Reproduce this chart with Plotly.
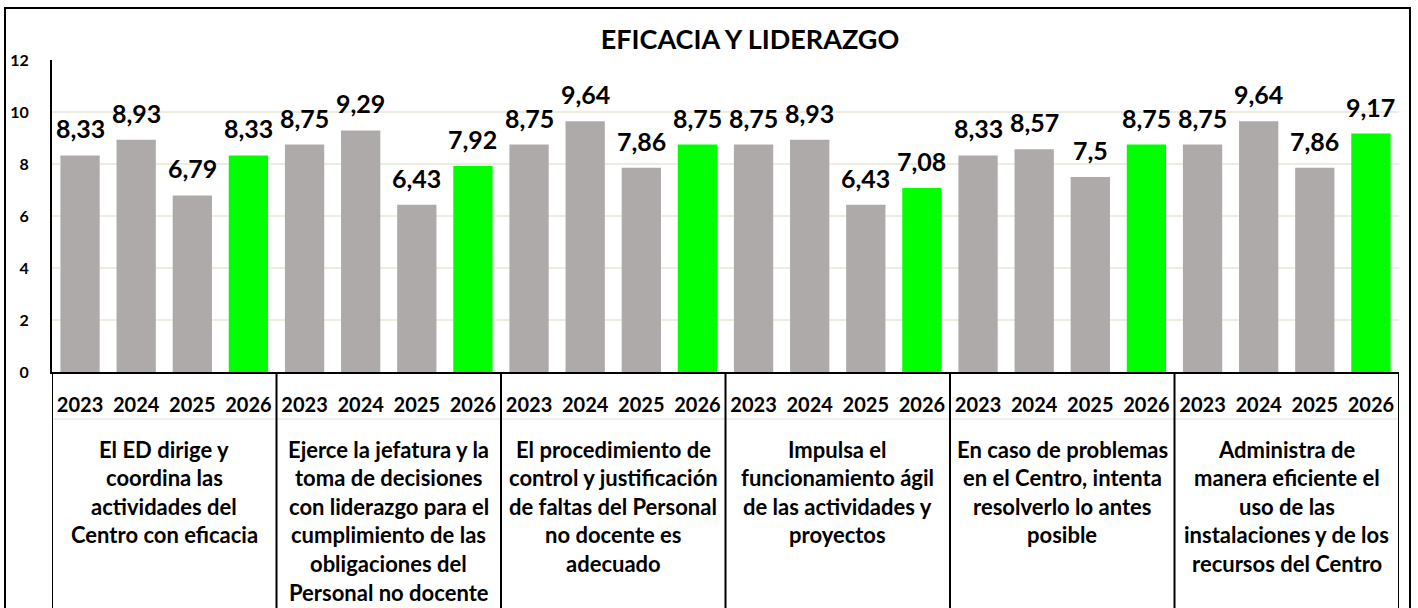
import plotly.graph_objects as go

# ---------------- data ----------------
years = ["2023", "2024", "2025", "2026"]
group_labels = [
    ["El ED dirige y", "coordina las", "actividades del", "Centro con eficacia"],
    ["Ejerce la jefatura y la", "toma de decisiones", "con liderazgo para el",
     "cumplimiento de las", "obligaciones del", "Personal no docente"],
    ["El procedimiento de", "control y justificación", "de faltas del Personal",
     "no docente es", "adecuado"],
    ["Impulsa el", "funcionamiento ágil", "de las actividades y", "proyectos"],
    ["En caso de problemas", "en el Centro, intenta", "resolverlo lo antes", "posible"],
    ["Administra de", "manera eficiente el", "uso de las",
     "instalaciones y de los", "recursos del Centro"],
]
values_g1 = [8.33, 8.93, 6.79, 8.33]
values_g2 = [8.75, 9.29, 6.43, 7.92]
values_g3 = [8.75, 9.64, 7.86, 8.75]
values_g4 = [8.75, 8.93, 6.43, 7.08]
values_g5 = [8.33, 8.57, 7.5, 8.75]
values_g6 = [8.75, 9.64, 7.86, 9.17]
all_groups = [values_g1, values_g2, values_g3, values_g4, values_g5, values_g6]
title_text = "EFICACIA Y LIDERAZGO"
y_ticks = [0, 2, 4, 6, 8, 10, 12]

# ---------------- styles ----------------
W, H = 1418, 608
L, R, T, B = 52, 19, 60, 236
FONT = "Lato"
GRAY = "#AEAAAA"
GREEN = "#00FF00"
GRID = "#EEECE1"

plot_w = W - L - R
plot_h = H - T - B


def px_x(px):
    return (px - L) / plot_w


def px_y(py):
    return (H - B - py) / plot_h


x_pos, y_val, colors, tick_text = [], [], [], []
for g, vals in enumerate(all_groups):
    for j, v in enumerate(vals):
        x_pos.append(g * 4 + j)
        y_val.append(v)
        colors.append(GREEN if years[j] == "2026" else GRAY)
        tick_text.append(years[j])

fig = go.Figure()
fig.add_trace(go.Bar(
    x=x_pos, y=y_val, marker=dict(color=colors, line=dict(width=0)),
    width=0.7, hoverinfo="x+y", showlegend=False,
))

annotations = []
# data labels
for x, v in zip(x_pos, y_val):
    annotations.append(dict(
        x=x, y=v, xref="x", yref="y", text=f"{v:g}".replace(".", ","),
        showarrow=False, yanchor="middle", xanchor="center", yshift=27,
        font=dict(family=FONT, size=25, color="black", weight="bold"),
    ))
# group labels
for g, lines in enumerate(group_labels):
    for k, line in enumerate(lines):
        annotations.append(dict(
            x=g * 4 + 1.5, xref="x", y=px_y(449 + k * 28.6), yref="paper",
            text=line, showarrow=False, yanchor="middle", xanchor="center",
            borderpad=0,
            font=dict(family=FONT, size=22, color="black", weight="bold"),
        ))

shapes = []
bottom = px_y(H + 5)
# outer border
shapes.append(dict(type="rect", xref="paper", yref="paper",
                   x0=px_x(5), x1=px_x(1410), y0=bottom, y1=px_y(8),
                   line=dict(color="black", width=2)))
# faint line under years
shapes.append(dict(type="line", xref="paper", yref="paper",
                   x0=0, x1=1, y0=px_y(419), y1=px_y(419),
                   line=dict(color="#E0E0E0", width=1)))
# group dividers
n = len(all_groups)
for g in range(n + 1):
    xv = g * 4 - 0.5
    shapes.append(dict(type="line", xref="x", yref="paper",
                       x0=xv, x1=xv, y0=bottom, y1=0,
                       line=dict(color="black", width=2)))

fig.update_layout(
    width=W, height=H,
    margin=dict(l=L, r=R, t=T, b=B, pad=0, autoexpand=False),
    paper_bgcolor="white", plot_bgcolor="white",
    bargap=0.3,
    title=dict(text=title_text, x=750 / W, xanchor="center",
               y=1 - 40 / H, yanchor="middle",
               font=dict(family=FONT, size=27, color="black", weight="bold")),
    xaxis=dict(range=[-0.5, len(x_pos) - 0.5], tickvals=x_pos, ticktext=tick_text,
               showgrid=False, zeroline=False, showline=True, linecolor="black",
               linewidth=2, ticks="", ticklabelstandoff=14, automargin=False,
               tickfont=dict(family=FONT, size=20, color="black", weight="bold")),
    yaxis=dict(range=[0, 12], tickvals=y_ticks, showgrid=True, gridcolor=GRID,
               gridwidth=1.5, zeroline=False, showline=True, linecolor="black",
               linewidth=2, ticks="", ticklabelstandoff=18, automargin=False,
               tickfont=dict(family=FONT, size=16, color="black", weight="bold")),
    annotations=annotations,
    shapes=shapes,
    font=dict(family=FONT),
)

fig.write_html("out.html", config={"displayModeBar": False},
               post_script="document.body.style.margin='0';document.body.style.overflow='hidden';")
